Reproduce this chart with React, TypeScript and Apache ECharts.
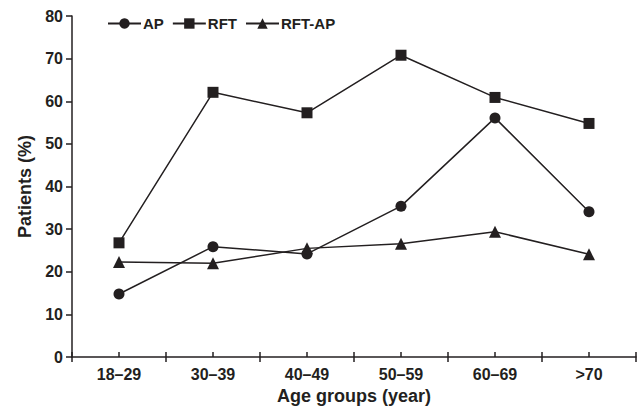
import React, { useEffect, useRef } from "react";
import * as echarts from "echarts";

const categories = ["18–29", "30–39", "40–49", "50–59", "60–69", ">70"];
const apValues = [14.8, 25.9, 24.2, 35.4, 56.1, 34.1];
const rftValues = [26.8, 62.1, 57.3, 70.8, 60.9, 54.8];
const rftApValues = [22.3, 22.0, 25.5, 26.6, 29.4, 24.1];
const yTicks = { min: 0, max: 80, interval: 10 };

const INK = "#231f20";
const FONT = "'Liberation Sans', Arial, Helvetica, sans-serif";

export default function App() {
  const ref = useRef<HTMLDivElement>(null);
  useEffect(() => {
    if (!ref.current) return;
    document.body.style.margin = "0";
    document.body.style.overflow = "hidden";
    const chart = echarts.init(ref.current, undefined, { renderer: "svg" });
    const mkSeries = (name: string, data: number[], symbol: string, size: number) => ({
      name,
      type: "line",
      data,
      xAxisIndex: 0,
      symbol,
      symbolSize: size,
      itemStyle: { color: INK },
      lineStyle: { color: INK, width: 1.5 },
      emphasis: { disabled: true },
    });
    chart.setOption({
      animation: false,
      textStyle: { fontFamily: FONT },
      legend: {
        top: 11,
        left: 102,
        itemWidth: 33,
        itemHeight: 13,
        itemGap: 8,
        textStyle: { fontFamily: FONT, fontWeight: "bold", fontSize: 15, color: INK, padding: [0, 0, 0, -3] },
        data: ["AP", "RFT", "RFT-AP"],
      },
      grid: { left: 72, right: 1, top: 16, bottom: 49, containLabel: false },
      xAxis: [
        {
          type: "category",
          data: categories,
          boundaryGap: true,
          axisLine: { lineStyle: { color: INK, width: 1.5 } },
          axisTick: { show: true, length: 5, lineStyle: { color: INK, width: 1.5 } },
          axisLabel: { fontFamily: FONT, fontWeight: "bold", fontSize: 16, color: INK, margin: 9 },
          name: "Age groups (year)",
          nameLocation: "middle",
          nameGap: 29,
          nameTextStyle: { fontFamily: FONT, fontWeight: "bold", fontSize: 18, color: INK },
        },
        {
          type: "value",
          position: "bottom",
          min: 0,
          max: 12,
          interval: 1,
          axisLine: { show: false },
          axisTick: { show: true, inside: true, length: 5, lineStyle: { color: INK, width: 1.5 } },
          axisLabel: { show: false },
          splitLine: { show: false },
        },
      ],
      yAxis: {
        type: "value",
        min: yTicks.min,
        max: yTicks.max,
        interval: yTicks.interval,
        axisLine: { show: true, lineStyle: { color: INK, width: 1.5 } },
        axisTick: { show: true, length: 6, lineStyle: { color: INK, width: 1.5 } },
        axisLabel: { fontFamily: FONT, fontWeight: "bold", fontSize: 16, color: INK, margin: 9 },
        splitLine: { show: false },
        name: "Patients (%)",
        nameLocation: "middle",
        nameGap: 38,
        nameTextStyle: { fontFamily: FONT, fontWeight: "bold", fontSize: 18, color: INK },
      },
      series: [
        mkSeries("AP", apValues, "circle", 11),
        mkSeries("RFT", rftValues, "rect", 11),
        mkSeries("RFT-AP", rftApValues, "triangle", 12),
      ],
    });
    return () => chart.dispose();
  }, []);
  return (
    <div
      ref={ref}
      style={{ width: 637, height: 410, position: "absolute", left: 0, top: 0, overflow: "hidden", background: "#fff" }}
    />
  );
}
